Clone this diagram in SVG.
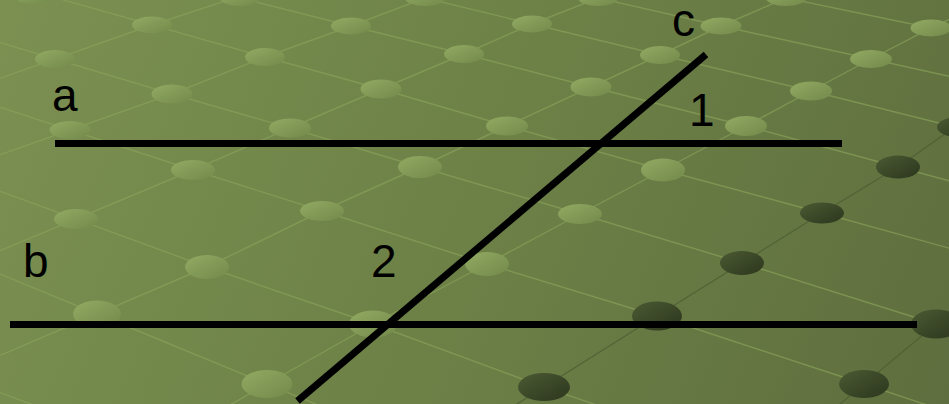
<svg xmlns="http://www.w3.org/2000/svg" width="949" height="404" viewBox="0 0 949 404">
<defs>
<linearGradient id="bg" x1="0" y1="0" x2="949" y2="404" gradientUnits="userSpaceOnUse">
<stop offset="0" stop-color="#7b9051"/>
<stop offset="0.5" stop-color="#6d8147"/>
<stop offset="1" stop-color="#5e6e3e"/>
</linearGradient>
<linearGradient id="lightDot" x1="0" y1="0" x2="1" y2="1">
<stop offset="0" stop-color="#91aa62"/>
<stop offset="1" stop-color="#73894b"/>
</linearGradient>
<linearGradient id="darkDot" x1="0" y1="0" x2="1" y2="1">
<stop offset="0" stop-color="#4b5a33"/>
<stop offset="1" stop-color="#2c361d"/>
</linearGradient>
<style>
.gl{fill:none;stroke:#8aa35b;stroke-width:1.4;stroke-opacity:0.65}
.gd{fill:none;stroke:#4f6034;stroke-width:1.4;stroke-opacity:0.85}
.ld{fill:url(#lightDot)}
.dd{fill:url(#darkDot)}
.ln{fill:none;stroke:#000;stroke-width:7;stroke-linecap:butt}
.lb{font-family:"Liberation Sans",Arial,sans-serif;font-size:46px;fill:#000}
</style>
</defs>
<rect width="949" height="404" fill="url(#bg)"/>
<g id="grid">
<polyline class="gl" points="-90,-40 39,-7 152,25 265,57 381,89 507,126 663,170 822,213 992,260"/>
<polyline class="gl" points="-62,24 55,59 172,94 290,128 420,167 580,214 742,263 936,324 1136,388"/>
<polyline class="gl" points="-53,90 70,130 193,170 322,211 487,264 657,316 864,384 1074,454"/>
<polyline class="gl" points="-55,171 76,219 207,267 373,324 544,387 719,447"/>
<polyline class="gl" points="-73,244 97,314 267,384 437,454"/>
<polyline class="gl" points="-20,385 60,415"/>
<polyline class="gl" points="129,-26 240,-2 351,26 464,54 591,87 746,126 898,167 1058,210"/>
<polyline class="gl" points="318,-24 425,-2 532,24 660,55 811,91 955,127 1105,163"/>
<polyline class="gl" points="480,-26 598,-2 721,26 871,59 1030,94"/>
<polyline class="gl" points="650,-30 786,-2 931,28 1090,60"/>
<polyline class="gl" points="-42,93 55,59 152,25 240,-4 330,-35"/>
<polyline class="gl" points="-32,166 70,130 172,94 265,57 351,26 425,-2 510,-30"/>
<polyline class="gl" points="-41,268 76,219 193,170 290,128 381,89 464,54 532,24 598,-2 660,-30"/>
<polyline class="gl" points="-120,407 -13,361 97,314 207,267 322,211 420,167 507,126 591,87 660,55 721,26 786,-2 850,-30"/>
<polyline class="gl" points="161,444 267,384 373,324 487,264 580,214 663,170 746,126 811,91 871,59 931,28 990,0"/>
<polyline class="gd" points="431,458 544,387 657,316 742,263 822,213 898,167 955,127 1010,88"/>
<polyline class="gd" points="790,446 864,384 936,324 1010,262"/>
</g>
<g id="dots">
<ellipse class="ld" cx="34" cy="-4" rx="20" ry="8"/>
<ellipse class="ld" cx="240" cy="-2" rx="20" ry="8"/>
<ellipse class="ld" cx="425" cy="-2" rx="20" ry="8"/>
<ellipse class="ld" cx="598" cy="-2" rx="20" ry="8"/>
<ellipse class="ld" cx="786" cy="-2" rx="20" ry="8"/>
<ellipse class="ld" cx="152" cy="25" rx="20" ry="8.5"/>
<ellipse class="ld" cx="351" cy="26" rx="20" ry="8.5"/>
<ellipse class="ld" cx="532" cy="24" rx="20" ry="8.5"/>
<ellipse class="ld" cx="721" cy="26" rx="20.5" ry="8.5"/>
<ellipse class="ld" cx="931" cy="28" rx="20.5" ry="8.5"/>
<ellipse class="ld" cx="55" cy="59" rx="20" ry="9"/>
<ellipse class="ld" cx="265" cy="57" rx="20" ry="9"/>
<ellipse class="ld" cx="464" cy="54" rx="20" ry="9"/>
<ellipse class="ld" cx="660" cy="55" rx="20" ry="9"/>
<ellipse class="ld" cx="871" cy="59" rx="21" ry="9"/>
<ellipse class="ld" cx="172" cy="94" rx="20.5" ry="9.5"/>
<ellipse class="ld" cx="381" cy="89" rx="20.5" ry="9.5"/>
<ellipse class="ld" cx="591" cy="87" rx="20.5" ry="9.5"/>
<ellipse class="ld" cx="811" cy="91" rx="21" ry="9.5"/>
<ellipse class="ld" cx="70" cy="130" rx="20.5" ry="9"/>
<ellipse class="ld" cx="290" cy="128" rx="21" ry="9.5"/>
<ellipse class="ld" cx="507" cy="126" rx="21" ry="9.5"/>
<ellipse class="ld" cx="746" cy="126" rx="21" ry="10"/>
<ellipse class="dd" cx="958" cy="127" rx="21" ry="10"/>
<ellipse class="ld" cx="193" cy="170" rx="22" ry="10"/>
<ellipse class="ld" cx="420" cy="167" rx="22" ry="11"/>
<ellipse class="ld" cx="663" cy="170" rx="22" ry="11.5"/>
<ellipse class="dd" cx="898" cy="167" rx="22" ry="11.5"/>
<ellipse class="ld" cx="76" cy="219" rx="22" ry="10"/>
<ellipse class="ld" cx="322" cy="211" rx="22" ry="10"/>
<ellipse class="ld" cx="580" cy="214" rx="22" ry="10"/>
<ellipse class="dd" cx="822" cy="213" rx="22" ry="10.5"/>
<ellipse class="ld" cx="207" cy="267" rx="22" ry="12"/>
<ellipse class="ld" cx="487" cy="264" rx="22" ry="12"/>
<ellipse class="dd" cx="742" cy="263" rx="22" ry="12"/>
<ellipse class="ld" cx="97" cy="314" rx="24" ry="13.5"/>
<ellipse class="ld" cx="373" cy="324" rx="24" ry="13.5"/>
<ellipse class="dd" cx="657" cy="316" rx="25" ry="14.5"/>
<ellipse class="dd" cx="936" cy="324" rx="25" ry="14.5"/>
<ellipse class="ld" cx="267" cy="384" rx="25.5" ry="14"/>
<ellipse class="dd" cx="544" cy="387" rx="26" ry="14"/>
<ellipse class="dd" cx="864" cy="384" rx="25" ry="14"/>
</g>
<g id="line-a"><line class="ln" x1="55" y1="143.5" x2="842" y2="143.5"/></g>
<g id="line-b"><line class="ln" x1="10" y1="324.5" x2="917" y2="324.5"/></g>
<g id="line-c"><line class="ln" x1="297.5" y1="401" x2="706" y2="54.5"/></g>
<g id="labels">
<text class="lb" x="52" y="111">a</text>
<text class="lb" x="23" y="277">b</text>
<text class="lb" x="672" y="36">c</text>
<text class="lb" x="689" y="126">1</text>
<text class="lb" x="371" y="277">2</text>
</g>
</svg>
